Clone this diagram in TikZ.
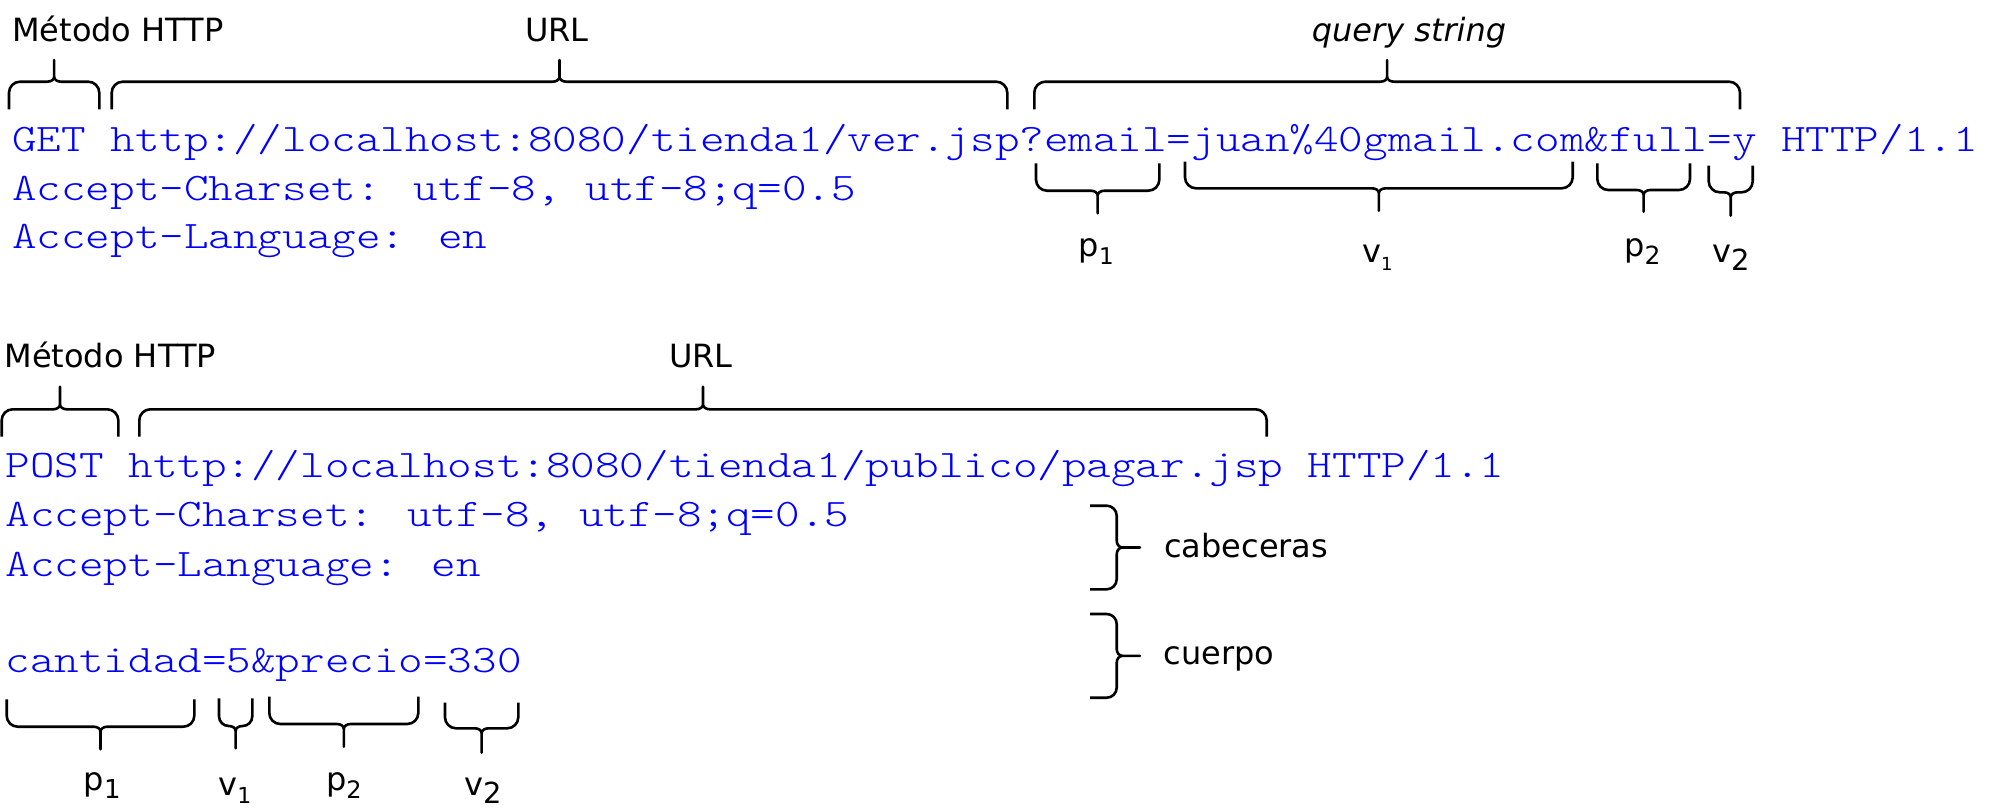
\documentclass[tikz,border=0pt]{standalone}
\usepackage{fontspec}
\setmainfont{DejaVu Sans}
\newfontfamily\codefont{lmmonolt10-regular.otf}[FakeStretch=1.2]
\newcommand\lblsub[2]{\raisebox{-8pt}{\fontsize{#1}{#1}\selectfont #2}}
% horizontal brace: #1=L, #2=R, #3=y of ends, #4=y of bar, #5=y of tip
\newcommand\hbrace[5]{%
 \pgfmathsetmacro\bT{(#1+#2)/2}%
 \pgfmathsetmacro\bS{(#5>#3)?1:-1}%
 \pgfmathsetmacro\bR{min(11,(#2-#1)/2-7)}%
 \pgfmathsetmacro\bA{#4-\bS*\bR}%
 \pgfmathsetmacro\bB{#4-\bS*0.45*\bR}%
 \pgfmathsetmacro\bC{#4+\bS*5}%
 \pgfmathsetmacro\bD{#4+\bS*2}%
 \draw[bracestyle] (#1,#3) -- (#1,\bA) .. controls (#1,\bB) and ({#1+0.45*\bR},#4) .. ({#1+\bR},#4)
   -- ({\bT-7},#4) .. controls ({\bT-3},#4) and (\bT,\bD) .. (\bT,\bC) -- (\bT,#5) -- (\bT,\bC)
   .. controls (\bT,\bD) and ({\bT+3},#4) .. ({\bT+7},#4) -- ({#2-\bR},#4)
   .. controls ({#2-0.45*\bR},#4) and (#2,\bB) .. (#2,\bA) -- (#2,#3);}
% vertical brace: #1=top, #2=bottom, #3=x of ends, #4=x of bar, #5=x of tip
\newcommand\vbrace[5]{%
 \pgfmathsetmacro\bT{(#1+#2)/2}%
 \pgfmathsetmacro\bR{10}%
 \pgfmathsetmacro\bA{#4-\bR}%
 \pgfmathsetmacro\bB{#4-0.45*\bR}%
 \pgfmathsetmacro\bC{#4+6}%
 \pgfmathsetmacro\bD{#4+2.4}%
 \draw[bracestyle] (#3,#1) -- (\bA,#1) .. controls (\bB,#1) and (#4,{#1+0.45*\bR}) .. (#4,{#1+\bR})
   -- (#4,{\bT-7}) .. controls (#4,{\bT-3}) and (\bD,\bT) .. (\bC,\bT) -- (#5,\bT) -- (\bC,\bT)
   .. controls (\bD,\bT) and (#4,{\bT+3}) .. (#4,{\bT+7}) -- (#4,{#2-\bR})
   .. controls (#4,{#2-0.45*\bR}) and (\bB,#2) .. (\bA,#2) -- (#3,#2);}
\begin{document}
\begin{tikzpicture}[x=1pt,y=-1pt,
  bracestyle/.style={draw=black,line width=2.6pt,line cap=butt,line join=round},
  code/.style={font=\codefont\fontsize{39}{49}\selectfont,text={rgb,255:red,0;green,0;blue,255},inner sep=0pt,anchor=base west},
  lbl/.style={font=\fontsize{32}{38}\selectfont,inner sep=0pt,anchor=base},
  lblw/.style={lbl,anchor=base west}]
\useasboundingbox (0,0) rectangle (1997,811);

% ---------- Block 1: GET ----------
\node[lblw] (m1) at (12,41.7) {Método HTTP};
\node[lbl] (u1) at (557,41.7) {URL};
\node[lbl] (q1) at (1409,41.7) {\itshape query string};

\hbrace{9}{99.3}{109.3}{81.7}{60}
\hbrace{111.7}{1007.3}{109.3}{81.7}{60}
\hbrace{1034.3}{1740}{109.3}{81.7}{60}

\node[code] (g1) at (12,151.7) {GET http://localhost:8080/tienda1/ver.jsp?email=juan\%40gmail.com\&full=y HTTP/1.1};
\node[code] (g2) at (12,200) {Accept-Charset: utf-8, utf-8;q=0.5};
\node[code] (g3) at (12,248.3) {Accept-Language: en};

\hbrace{1036}{1159.3}{163.3}{190.7}{213.3}
\hbrace{1185}{1572.7}{161.7}{188.3}{210.7}
\hbrace{1597.3}{1690}{163.3}{190}{211.7}
\hbrace{1708.7}{1752.7}{165.7}{192.3}{215.7}

\node[lblw] (gp1) at (1078.5,256) {p\lblsub{23}{1}};
\node[lblw] (gv1) at (1362,262) {v\lblsub{18}{1}};
\node[lblw] (gp2) at (1624,256) {p\lblsub{25}{2}};
\node[lblw] (gv2) at (1712,262) {v\lblsub{29}{2}};

% ---------- Block 2: POST ----------
\node[lblw] (m2) at (4.3,367.3) {Método HTTP};
\node[lbl] (u2) at (701,367.8) {URL};

\hbrace{1.7}{118.3}{436.7}{409.3}{386.7}
\hbrace{139.3}{1266.7}{436.7}{409.3}{386.7}

\node[code] (h1) at (5.5,477.3) {POST http://localhost:8080/tienda1/publico/pagar.jsp HTTP/1.1};
\node[code] (h2) at (5.5,526.7) {Accept-Charset: utf-8, utf-8;q=0.5};
\node[code] (h3) at (5.5,576) {Accept-Language: en};
\node[code] (h4) at (5.5,672.7) {cantidad=5\&precio=330};

\vbrace{505.7}{589.3}{1090}{1116.7}{1140}
\vbrace{614}{697.7}{1090}{1116.7}{1140}
\node[lblw] (cab) at (1164,557.7) {cabeceras};
\node[lblw] (cue) at (1163.5,664.3) {cuerpo};

\hbrace{6.7}{194.3}{699.3}{726.7}{749.3}
\hbrace{219}{252.3}{698.3}{726}{748.3}
\hbrace{269.3}{418.3}{696.7}{724}{746.7}
\hbrace{445}{518.3}{702.7}{728.3}{752.7}

\node[lblw] (pp1) at (83.5,790.7) {p\lblsub{26}{1}};
\node[lblw] (pv1) at (218.3,795) {v\lblsub{22}{1}};
\node[lblw] (pp2) at (325.8,790.7) {p\lblsub{24}{2}};
\node[lblw] (pv2) at (464,795) {v\lblsub{29}{2}};
\end{tikzpicture}
\end{document}
